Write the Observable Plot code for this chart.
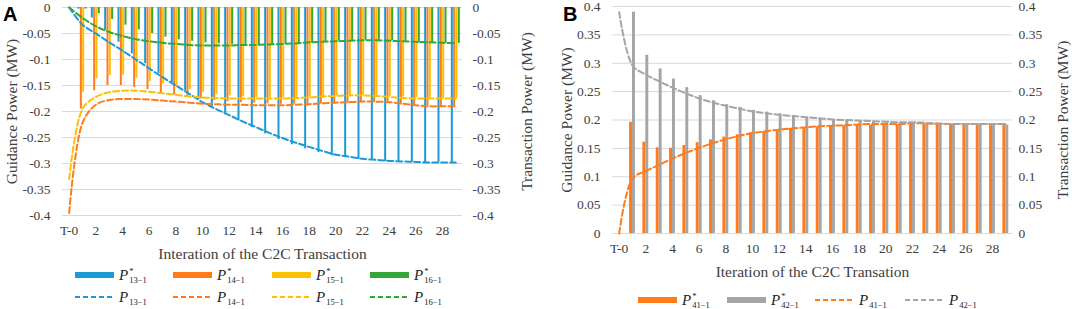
<!DOCTYPE html>
<html>
<head>
<meta charset="utf-8">
<script src="https://cdn.jsdelivr.net/npm/d3@7"></script>
<script src="https://cdn.jsdelivr.net/npm/@observablehq/plot@0.6"></script>
<style>
  body { margin: 0; background: #fff; }
  #root { position: relative; width: 1072px; height: 309px; background: #fff; overflow: hidden; font-family: "Liberation Serif", "Times New Roman", serif; color: #404040; }
  .panel { position: absolute; top: 0; }
  .tag { position: absolute; font-family: "Liberation Sans", Arial, sans-serif; font-weight: bold; font-size: 20px; color: #000; line-height: 20px; }
  .lab { position: absolute; font-size: 15px; color: #222; display: flex; align-items: center; height: 20px; font-family: "Liberation Serif", "Times New Roman", serif; }
  .lab i { font-style: italic; }
  .ss { display: inline-flex; flex-direction: column; font-size: 8.5px; line-height: 8px; margin-left: 1px; }
  .ss .sp { height: 8px; }
  .ss .sb { height: 8px; margin-top: 1px; }
</style>
</head>
<body>
<div id="root"></div>
<script>
// ---------- data ----------
const iterations = ["T-0","1","2","3","4","5","6","7","8","9","10","11","12","13","14","15","16","17","18","19","20","21","22","23","24","25","26","27","28","29"];
const xTickIdx = [0,2,4,6,8,10,12,14,16,18,20,22,24,26,28];

const yTicksA = [0,-0.05,-0.1,-0.15,-0.2,-0.25,-0.3,-0.35,-0.4];
const yTickLabelsA = ["0","-0.05","-0.1","-0.15","-0.2","-0.25","-0.3","-0.35","-0.4"];
const yTicksB = [0,0.05,0.1,0.15,0.2,0.25,0.3,0.35,0.4];
const yTickLabelsB = ["0","0.05","0.1","0.15","0.2","0.25","0.3","0.35","0.4"];

// Panel A: guidance power (bars)
const guideP13 = [0,-0.003,-0.02,-0.044,-0.067,-0.089,-0.108,-0.127,-0.144,-0.16,-0.177,-0.192,-0.206,-0.218,-0.231,-0.243,-0.254,-0.264,-0.272,-0.279,-0.285,-0.289,-0.292,-0.294,-0.296,-0.297,-0.298,-0.298,-0.298,-0.298];
const guideP14 = [0,-0.195,-0.16,-0.15,-0.15,-0.154,-0.158,-0.165,-0.168,-0.172,-0.176,-0.179,-0.181,-0.183,-0.184,-0.185,-0.186,-0.186,-0.186,-0.185,-0.184,-0.183,-0.182,-0.182,-0.184,-0.186,-0.188,-0.189,-0.19,-0.19];
const guideP15 = [0,-0.163,-0.137,-0.131,-0.13,-0.136,-0.142,-0.147,-0.153,-0.158,-0.163,-0.167,-0.17,-0.172,-0.173,-0.174,-0.174,-0.173,-0.172,-0.171,-0.17,-0.169,-0.169,-0.17,-0.171,-0.172,-0.173,-0.174,-0.175,-0.175];
const guideP16 = [0,-0.003,-0.012,-0.023,-0.034,-0.043,-0.05,-0.057,-0.062,-0.065,-0.068,-0.07,-0.071,-0.072,-0.072,-0.072,-0.071,-0.07,-0.069,-0.066,-0.065,-0.063,-0.063,-0.063,-0.064,-0.066,-0.068,-0.069,-0.069,-0.069];
// Panel A: transaction power (dashed lines)
const transP13 = [0,-0.033,-0.05,-0.067,-0.083,-0.1,-0.117,-0.134,-0.15,-0.166,-0.182,-0.195,-0.207,-0.219,-0.23,-0.241,-0.251,-0.26,-0.268,-0.276,-0.283,-0.287,-0.291,-0.293,-0.295,-0.296,-0.297,-0.298,-0.298,-0.298];
const transP14 = [-0.395,-0.222,-0.187,-0.178,-0.176,-0.176,-0.177,-0.179,-0.181,-0.183,-0.185,-0.186,-0.187,-0.187,-0.188,-0.188,-0.188,-0.187,-0.186,-0.184,-0.183,-0.182,-0.181,-0.181,-0.182,-0.185,-0.188,-0.19,-0.19,-0.19];
const transP15 = [-0.33,-0.195,-0.172,-0.163,-0.16,-0.16,-0.162,-0.165,-0.168,-0.171,-0.173,-0.174,-0.175,-0.175,-0.175,-0.175,-0.175,-0.174,-0.173,-0.171,-0.17,-0.169,-0.169,-0.17,-0.172,-0.174,-0.175,-0.175,-0.175,-0.175];
const transP16 = [0,-0.02,-0.036,-0.047,-0.055,-0.061,-0.065,-0.068,-0.07,-0.072,-0.073,-0.073,-0.073,-0.072,-0.072,-0.071,-0.07,-0.069,-0.067,-0.066,-0.065,-0.064,-0.063,-0.063,-0.064,-0.065,-0.066,-0.067,-0.068,-0.068];

// Panel B
const guideP41 = [0,0.196,0.161,0.151,0.15,0.155,0.16,0.165,0.17,0.174,0.177,0.18,0.183,0.185,0.187,0.188,0.189,0.19,0.191,0.191,0.192,0.192,0.192,0.192,0.192,0.192,0.192,0.192,0.192,0.192];
const guideP42 = [0,0.39,0.314,0.29,0.272,0.257,0.243,0.234,0.227,0.222,0.217,0.214,0.211,0.208,0.205,0.203,0.2,0.199,0.198,0.197,0.196,0.195,0.194,0.193,0.193,0.192,0.192,0.191,0.191,0.191];
const transP41 = [0,0.097,0.11,0.121,0.132,0.142,0.151,0.159,0.166,0.172,0.177,0.18,0.183,0.185,0.187,0.189,0.19,0.191,0.192,0.193,0.193,0.193,0.194,0.194,0.193,0.193,0.193,0.193,0.193,0.193];
const transP42 = [0.39,0.296,0.28,0.268,0.257,0.247,0.238,0.231,0.225,0.22,0.215,0.212,0.209,0.207,0.205,0.203,0.201,0.2,0.199,0.198,0.197,0.196,0.196,0.195,0.194,0.193,0.193,0.193,0.193,0.193];

const seriesSubA = ["13\u22121","14\u22121","15\u22121","16\u22121"];
const seriesSubB = ["41\u22121","42\u22121"];
const colorsA = ["#1c9ad6","#ff7b1c","#ffc000","#34a734"];
const colorsB = ["#ff7b1c","#a5a5a5"];

// ---------- helpers ----------
const rows = vals => vals.map((v, i) => ({i, v}));
const fmt = (ticks, labels) => d => labels[ticks.findIndex(t => Math.abs(t - d) < 1e-9)];
const FONT = "'Liberation Serif', 'Times New Roman', serif";

function panel({width, height, mL, mR, mT, mB, yDomain, yTicks, yLabels, guides, trans, colors, slot, barW, xTitle, dxL, dxR, padL, padR, dyX}) {
  const marks = [Plot.gridY(yTicks, {stroke: "#d9d9d9", strokeOpacity: 1, strokeWidth: 1})];
  const n = guides.length;
  guides.forEach((vals, k) => {
    const off = (k - (n - 1) / 2) * slot;
    marks.push(Plot.rect(rows(vals), {
      x1: d => d.i + off - barW / 2, x2: d => d.i + off + barW / 2,
      y1: 0, y2: "v", fill: colors[k]
    }));
  });
  trans.forEach((vals, k) => {
    marks.push(Plot.line(rows(vals), {x: "i", y: "v", stroke: colors[k], strokeWidth: 2, strokeDasharray: "6,3", curve: "catmull-rom"}));
  });
  marks.push(
    Plot.axisX(xTickIdx, {tickSize: 0, tickPadding: 10, tickFormat: i => iterations[i], fontSize: 13.5, fontFamily: FONT, label: null}),
    Plot.axisY(yTicks, {anchor: "left", tickSize: 0, tickPadding: padL, tickFormat: fmt(yTicks, yLabels), fontSize: 13.5, fontFamily: FONT, label: null}),
    Plot.axisY(yTicks, {anchor: "right", tickSize: 0, tickPadding: padR, tickFormat: fmt(yTicks, yLabels), fontSize: 13.5, fontFamily: FONT, label: null}),
    Plot.text(["Guidance Power (MW)"], {text: d => d, frameAnchor: "left", textAnchor: "middle", lineAnchor: "middle", rotate: -90, dx: dxL, fontSize: 15.5, fontFamily: FONT}),
    Plot.text(["Transaction Power (MW)"], {text: d => d, frameAnchor: "right", textAnchor: "middle", lineAnchor: "middle", rotate: -90, dx: dxR, fontSize: 15.5, fontFamily: FONT}),
    Plot.text([xTitle], {text: d => d, frameAnchor: "bottom", textAnchor: "middle", lineAnchor: "middle", dy: dyX, fontSize: 15.5, fontFamily: FONT})
  );
  return Plot.plot({
    width, height, marginLeft: mL, marginRight: mR, marginTop: mT, marginBottom: mB,
    x: {domain: [-0.5, 29.5], axis: null},
    y: {domain: yDomain, axis: null},
    style: {fontFamily: FONT, color: "#404040", background: "transparent", overflow: "visible"},
    marks
  });
}

const root = document.getElementById("root");

const pa = document.createElement("div"); pa.className = "panel"; pa.style.left = "0px";
pa.appendChild(panel({
  width: 540, height: 262, mL: 62, mR: 78, mT: 7, mB: 47,
  yDomain: [-0.4, 0], yTicks: yTicksA, yLabels: yTickLabelsA,
  guides: [guideP13, guideP14, guideP15, guideP16], trans: [transP13, transP14, transP15, transP16],
  colors: colorsA, slot: 0.175, barW: 0.15,
  xTitle: "Interation of the C2C Transaction", dxL: -50, dxR: 65, padL: 12, padR: 10, dyX: 39
}));
root.appendChild(pa);

const pb = document.createElement("div"); pb.className = "panel"; pb.style.left = "540px";
pb.appendChild(panel({
  width: 532, height: 282, mL: 72, mR: 60, mT: 6, mB: 49,
  yDomain: [0, 0.4], yTicks: yTicksB, yLabels: yTickLabelsB,
  guides: [guideP41, guideP42], trans: [transP41, transP42],
  colors: colorsB, slot: 0.22, barW: 0.22,
  xTitle: "Iteration of the C2C Transation", dxL: -45, dxR: 51, padL: 12, padR: 6, dyX: 39
}));
root.appendChild(pb);

// tags
for (const [t, x] of [["A", 3], ["B", 563]]) {
  const e = document.createElement("div"); e.className = "tag"; e.textContent = t;
  e.style.left = x + "px"; e.style.top = "4px"; root.appendChild(e);
}

// legends
function legendItem(left, cy, type, color, sub, star) {
  const sw = document.createElementNS("http://www.w3.org/2000/svg", "svg");
  sw.setAttribute("width", 39); sw.setAttribute("height", 8);
  sw.style.position = "absolute"; sw.style.left = left + "px"; sw.style.top = (cy - 4) + "px";
  if (type === "bar") {
    sw.innerHTML = `<rect x="0" y="1" width="39" height="6" fill="${color}"/>`;
  } else {
    sw.innerHTML = `<line x1="0" y1="4" x2="39" y2="4" stroke="${color}" stroke-width="2" stroke-dasharray="5,3"/>`;
  }
  root.appendChild(sw);
  const lab = document.createElement("div"); lab.className = "lab";
  lab.style.left = (left + 44) + "px"; lab.style.top = (cy - 10) + "px";
  lab.innerHTML = `<i>P</i><span class="ss"><span class="sp">${star ? "*" : ""}</span><span class="sb">${sub}</span></span>`;
  root.appendChild(lab);
}
const legLeftA = [75, 173, 272, 370];
seriesSubA.forEach((s, k) => {
  legendItem(legLeftA[k], 275, "bar", colorsA[k], s, true);
  legendItem(legLeftA[k], 297, "line", colorsA[k], s, false);
});
const legLeftB = [638, 727, 815, 905];
seriesSubB.forEach((s, k) => {
  legendItem(legLeftB[k], 300, "bar", colorsB[k], s, true);
  legendItem(legLeftB[k + 2], 300, "line", colorsB[k], s, false);
});
</script>
</body>
</html>
